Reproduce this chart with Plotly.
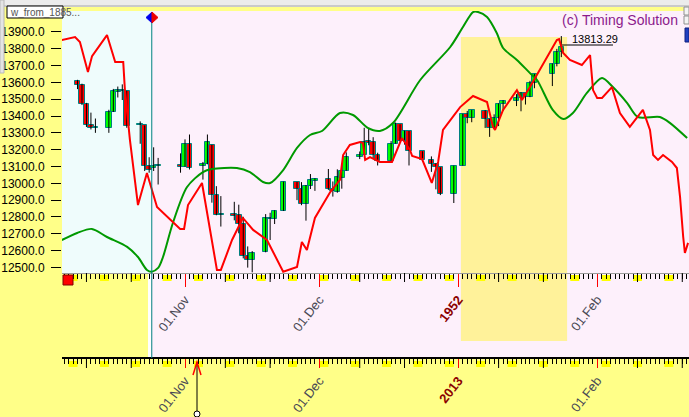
import plotly.graph_objects as go
import pandas as pd

# ---------------- data ----------------
candle_dates = [
    "2012-10-08", "2012-10-09", "2012-10-10", "2012-10-11", "2012-10-12",
    "2012-10-15", "2012-10-16", "2012-10-17", "2012-10-18", "2012-10-19",
    "2012-10-22", "2012-10-23", "2012-10-24", "2012-10-25", "2012-10-26",
    "2012-10-31", "2012-11-01", "2012-11-02", "2012-11-05", "2012-11-06",
    "2012-11-07", "2012-11-08", "2012-11-09", "2012-11-12", "2012-11-13",
    "2012-11-14", "2012-11-15", "2012-11-16", "2012-11-19", "2012-11-20",
    "2012-11-21", "2012-11-23", "2012-11-26", "2012-11-27", "2012-11-28",
    "2012-11-29", "2012-11-30", "2012-12-03", "2012-12-04", "2012-12-05",
    "2012-12-06", "2012-12-07", "2012-12-10", "2012-12-11", "2012-12-12",
    "2012-12-13", "2012-12-14", "2012-12-17", "2012-12-18", "2012-12-19",
    "2012-12-20", "2012-12-21", "2012-12-24", "2012-12-26", "2012-12-27",
    "2012-12-28", "2012-12-31", "2013-01-02", "2013-01-03", "2013-01-04",
    "2013-01-07", "2013-01-08", "2013-01-09", "2013-01-10", "2013-01-11",
    "2013-01-14", "2013-01-15", "2013-01-16", "2013-01-17", "2013-01-18",
    "2013-01-22", "2013-01-23", "2013-01-24",
]
candle_open = [
    13610, 13583, 13473, 13345, 13326, 13329, 13424, 13540, 13557, 13548,
    13344, 13344, 13103, 13090, 13103, 13107, 13099, 13233, 13100, 13113,
    13229, 12933, 12811, 12815, 12809, 12757, 12570, 12542, 12590, 12795,
    12788, 12836, 13008, 12966, 12877, 12986, 13015, 13027, 12965, 12950,
    13034, 13075, 13155, 13170, 13249, 13244, 13169, 13134, 13236, 13350,
    13252, 13311, 13190, 13139, 13114, 13095, 12939, 13105, 13413, 13391,
    13432, 13384, 13329, 13391, 13472, 13488, 13507, 13534, 13512, 13596,
    13649, 13712, 13779,
]
candle_high = [
    13615, 13592, 13478, 13420, 13385, 13437, 13561, 13575, 13588, 13550,
    13368, 13344, 13155, 13214, 13151, 13178, 13261, 13290, 13127, 13290,
    13229, 12983, 12924, 12890, 12873, 12801, 12625, 12597, 12817, 12825,
    12840, 13010, 13008, 13007, 12990, 13055, 13030, 13085, 13011, 13083,
    13080, 13184, 13189, 13330, 13324, 13274, 13182, 13251, 13361, 13350,
    13313, 13311, 13190, 13160, 13119, 13095, 13105, 13413, 13430, 13436,
    13435, 13384, 13410, 13475, 13494, 13530, 13542, 13535, 13609, 13650,
    13712, 13799, 13875,
]
candle_low = [
    13560, 13465, 13335, 13320, 13300, 13300, 13424, 13510, 13495, 13330,
    13235, 13073, 13063, 13073, 12993, 13063, 13099, 13082, 13022, 13113,
    12885, 12810, 12743, 12780, 12703, 12554, 12499, 12471, 12590, 12663,
    12758, 12836, 12900, 12870, 12778, 12966, 12955, 12961, 12921, 12944,
    12968, 13075, 13144, 13170, 13226, 13146, 13106, 13134, 13236, 13248,
    13230, 13106, 13133, 13068, 12964, 12930, 12883, 13105, 13357, 13363,
    13329, 13276, 13329, 13340, 13430, 13459, 13428, 13468, 13512, 13565,
    13578, 13695, 13750,
]
candle_close = [
    13583, 13473, 13344, 13326, 13334, 13424, 13551, 13557, 13549, 13343,
    13352, 13102, 13077, 13103, 13110, 13096, 13232, 13093, 13112, 13246,
    12932, 12811, 12818, 12806, 12756, 12570, 12542, 12588, 12796, 12788,
    12836, 13010, 12967, 12878, 12985, 13022, 13026, 12966, 12952, 13035,
    13075, 13155, 13170, 13248, 13240, 13170, 13135, 13236, 13351, 13252,
    13312, 13190, 13139, 13114, 13096, 12938, 13104, 13412, 13391, 13435,
    13384, 13329, 13390, 13471, 13488, 13507, 13535, 13511, 13596, 13650,
    13712, 13779, 13813,
]

red_dates = [
    "2012-10-04 12:00", "2012-10-07 11:00", "2012-10-08 13:00", "2012-10-10 08:00",
    "2012-10-11 06:00", "2012-10-14 14:00", "2012-10-16 10:00", "2012-10-18 05:00",
    "2012-10-18 14:00", "2012-10-19 17:00", "2012-10-21 12:00", "2012-10-23 12:00",
    "2012-10-25 18:00", "2012-10-30 22:00", "2012-10-31 19:00", "2012-11-01 16:00",
    "2012-11-04 19:00", "2012-11-08 03:00", "2012-11-09 00:00", "2012-11-11 12:00",
    "2012-11-13 22:00", "2012-11-16 05:00", "2012-11-19 07:00", "2012-11-22 22:00",
    "2012-11-26 00:00", "2012-11-27 02:00", "2012-11-28 05:00", "2012-11-30 00:00",
    "2012-12-03 10:00", "2012-12-05 14:00", "2012-12-06 07:00", "2012-12-07 19:00",
    "2012-12-10 02:00", "2012-12-10 17:00", "2012-12-11 05:00", "2012-12-12 07:00",
    "2012-12-14 12:00", "2012-12-17 05:00", "2012-12-19 10:00", "2012-12-21 05:00",
    "2012-12-21 17:00", "2012-12-23 22:00", "2012-12-26 02:00", "2012-12-27 12:00",
    "2012-12-28 14:00", "2012-12-30 05:00", "2013-01-01 10:00", "2013-01-04 07:00",
    "2013-01-07 10:00", "2013-01-08 18:00", "2013-01-09 05:00", "2013-01-11 00:00",
    "2013-01-14 02:00", "2013-01-15 05:00", "2013-01-17 00:00", "2013-01-23 00:00",
    "2013-01-23 12:00", "2013-01-24 10:00", "2013-01-25 22:00", "2013-01-28 14:00",
    "2013-01-30 10:00", "2013-01-31 02:00", "2013-02-01 00:00", "2013-02-02 02:00",
    "2013-02-04 07:00", "2013-02-06 02:00", "2013-02-08 07:00", "2013-02-11 05:00",
    "2013-02-12 19:00", "2013-02-13 12:00", "2013-02-14 14:00", "2013-02-15 17:00",
    "2013-02-17 17:00", "2013-02-18 19:00", "2013-02-19 12:00", "2013-02-20 05:00",
    "2013-02-20 14:00", "2013-02-21 07:00",
]
red_values = [
    13851, 13869, 13840, 13661, 13756, 13881, 13721, 13721, 13554, 13257,
    12871, 13061, 12859, 12729, 12729, 12871, 13002, 12485, 12485, 12663,
    12794, 12723, 12663, 12475, 12503, 12651, 12604, 12794, 12948, 13020,
    13168, 13228, 13245, 13240, 13139, 13156, 13127, 13127, 13269, 13198,
    13162, 13144, 13002, 13127, 13317, 13376, 13453, 13519, 13483, 13335,
    13317, 13436, 13554, 13495, 13572, 13851, 13857, 13774, 13733, 13703,
    13762, 13554, 13507, 13507, 13572, 13418, 13335, 13436, 13317, 13168,
    13139, 13168, 13127, 13091, 12919, 12681, 12586, 12646,
]

green_dates = [
    "2012-10-04 12:00", "2012-10-07 22:00", "2012-10-11 05:00", "2012-10-14 14:00",
    "2012-10-19 02:00", "2012-10-21 12:00", "2012-10-23 12:00", "2012-10-24 14:00",
    "2012-10-26 00:00", "2012-10-27 02:00", "2012-10-29 07:00", "2012-11-01 11:00",
    "2012-11-05 00:00", "2012-11-07 00:00", "2012-11-12 14:00", "2012-11-15 12:00",
    "2012-11-18 10:00", "2012-11-20 00:00", "2012-11-22 22:00", "2012-11-26 00:00",
    "2012-11-28 22:00", "2012-12-01 14:00", "2012-12-05 14:00", "2012-12-08 12:00",
    "2012-12-11 19:00", "2012-12-14 12:00", "2012-12-17 10:00", "2012-12-23 12:00",
    "2012-12-30 05:00", "2013-01-02 01:00", "2013-01-04 07:00", "2013-01-05 10:00",
    "2013-01-07 10:00", "2013-01-09 14:00", "2013-01-11 00:00", "2013-01-14 02:00",
    "2013-01-17 00:00", "2013-01-18 14:00", "2013-01-22 02:00", "2013-01-24 10:00",
    "2013-01-26 14:00", "2013-01-29 17:00", "2013-02-02 02:00", "2013-02-04 12:00",
    "2013-02-07 17:00", "2013-02-10 02:00", "2013-02-15 00:00", "2013-02-17 07:00",
    "2013-02-21 02:00",
]
green_values = [
    12663, 12705, 12729, 12681, 12622, 12562, 12485, 12475, 12497, 12562,
    12764, 12978, 13067, 13085, 13091, 13067, 13008, 13002, 13079, 13210,
    13287, 13311, 13418, 13406, 13329, 13311, 13358, 13614, 13810, 13929,
    14018, 14018, 13988, 13893, 13804, 13733, 13655, 13614, 13436, 13382,
    13418, 13537, 13626, 13572, 13477, 13394, 13394, 13358, 13269,
]

y_tick_values = [12500, 12600, 12700, 12800, 12900, 13000, 13100, 13200,
                 13300, 13400, 13500, 13600, 13700, 13800, 13900]
month_tick_dates = ["2012-11-01", "2012-12-01", "2013-01-01", "2013-02-01"]
upper_tick_labels = ["01.Nov", "01.Dec", "1952", "01.Feb"]
lower_tick_labels = ["01.Nov", "01.Dec", "2013", "01.Feb"]
last_price_label = "13813.29"

# ---------------- layout helpers ----------------
W, H = 689, 417
ML, MT = 62, 11
PW, PH = W - ML, H - MT


def px(x):
    return (x - ML) / PW


def py(y):
    return (H - y) / PH


X_START = "2012-10-04 13:00"
X_END = "2013-02-21 12:00"
Y_RANGE = [12467, 14024]
TEAL_DATE = "2012-10-24 14:00"
HL_START = "2013-01-01 14:00"
HL_END = "2013-01-25 07:00"
FONT = "Liberation Sans, Arial, sans-serif"
DAY_MS = 86400000

fig = go.Figure()

# wicks
wx, wy = [], []
for d, lo, hi in zip(candle_dates, candle_low, candle_high):
    wx += [d, d, None]
    wy += [lo, hi, None]
fig.add_trace(go.Scatter(x=wx, y=wy, mode="lines", line=dict(color="#000000", width=1),
                         hoverinfo="skip", showlegend=False))

# bodies
body_colors = ["#00ff00" if c >= o else "#ff0000" for o, c in zip(candle_open, candle_close)]
fig.add_trace(go.Bar(
    x=candle_dates,
    y=[c - o for o, c in zip(candle_open, candle_close)],
    base=candle_open,
    width=1.25 * DAY_MS,
    marker=dict(color=body_colors, line=dict(color="#008080", width=1)),
    showlegend=False, hoverinfo="skip",
))

fig.add_trace(go.Scatter(x=green_dates, y=green_values, mode="lines",
                         line=dict(color="#009900", width=2, shape="spline", smoothing=0.8),
                         showlegend=False, hoverinfo="skip"))
fig.add_trace(go.Scatter(x=red_dates, y=red_values, mode="lines",
                         line=dict(color="#ff0000", width=2),
                         showlegend=False, hoverinfo="skip"))
# helper trace that activates the lower time axis
fig.add_trace(go.Scatter(x=[X_START], y=[13000], xaxis="x2", mode="markers",
                         marker=dict(opacity=0), showlegend=False, hoverinfo="skip"))

shapes = []
# axis band (pink) between the two time scales
shapes.append(dict(type="rect", xref="paper", yref="paper", x0=px(148), x1=1.0,
                   y0=py(358), y1=py(273), fillcolor="#fdf0fb", line=dict(width=0), layer="below"))
shapes.append(dict(type="rect", xref="paper", yref="paper", x0=px(148), x1=px(151),
                   y0=py(358), y1=py(273), fillcolor="#ffffff", line=dict(width=0), layer="below"))
# light cyan part of the plot
shapes.append(dict(type="rect", xref="x", yref="paper", x0=X_START, x1=TEAL_DATE,
                   y0=py(273), y1=1.0, fillcolor="#effcfc", line=dict(width=0), layer="below"))
# highlight
shapes.append(dict(type="rect", xref="x", yref="paper", x0=HL_START, x1=HL_END,
                   y0=py(341), y1=py(37), fillcolor="#fff29a", line=dict(width=0), layer="below"))

# weekend marks and 10/20 ticks on both time scales
for d in pd.date_range("2012-10-01", "2013-02-28", freq="D"):
    if d.weekday() == 5:
        e = d + pd.Timedelta(days=2)
        for top, bot in ((275, 281), (361, 367)):
            shapes.append(dict(type="rect", xref="x", yref="paper",
                               x0=d.strftime("%Y-%m-%d"), x1=e.strftime("%Y-%m-%d"),
                               y0=py(bot), y1=py(top), fillcolor="#ffff00",
                               line=dict(width=0), layer="below"))
    if d.day in (10, 20):
        for top, bot in ((273, 282), (359, 368)):
            shapes.append(dict(type="line", xref="x", yref="paper",
                               x0=d.strftime("%Y-%m-%d"), x1=d.strftime("%Y-%m-%d"),
                               y0=py(bot), y1=py(top), line=dict(color="#000000", width=1),
                               layer="above"))

# teal vertical marker line and its diamond
shapes.append(dict(type="line", xref="x", yref="paper", x0=TEAL_DATE, x1=TEAL_DATE,
                   y0=py(358), y1=py(23), line=dict(color="#008080", width=1), layer="above"))
shapes.append(dict(type="path", xref="paper", yref="paper",
                   path=f"M {px(146)} {py(17.5)} L {px(152)} {py(12)} L {px(152)} {py(23)} Z",
                   fillcolor="#0000ee", line=dict(color="#0000ee", width=1), layer="above"))
shapes.append(dict(type="path", xref="paper", yref="paper",
                   path=f"M {px(152)} {py(12)} L {px(158)} {py(17.5)} L {px(152)} {py(23)} Z",
                   fillcolor="#ee0000", line=dict(color="#ee0000", width=1), layer="above"))

# cursor on lower scale
shapes.append(dict(type="line", xref="paper", yref="paper", x0=px(197), x1=px(197),
                   y0=py(414), y1=py(362), line=dict(color="#000000", width=1), layer="above"))
shapes.append(dict(type="path", xref="paper", yref="paper",
                   path=f"M {px(193)} {py(375)} L {px(197)} {py(362)} L {px(201)} {py(375)}",
                   line=dict(color="#ff0000", width=1.5), layer="above"))
shapes.append(dict(type="circle", xref="paper", yref="paper", x0=px(194), x1=px(200),
                   y0=py(417), y1=py(411), fillcolor="#ffffff",
                   line=dict(color="#000000", width=1), layer="above"))

# red square at the start of the upper scale
shapes.append(dict(type="rect", xref="paper", yref="paper", x0=px(63), x1=px(73),
                   y0=py(285), y1=py(275), fillcolor="#ff0000",
                   line=dict(color="#800000", width=1), layer="above"))

# last price marker underline
shapes.append(dict(type="line", xref="paper", yref="paper", x0=px(562), x1=px(613),
                   y0=py(45), y1=py(45), line=dict(color="#000000", width=1), layer="above"))

# window chrome
shapes.append(dict(type="rect", xref="paper", yref="paper", x0=px(0), x1=1.0,
                   y0=py(7), y1=py(0), fillcolor="#ececec", line=dict(width=0), layer="above"))
shapes.append(dict(type="line", xref="paper", yref="paper", x0=px(0), x1=1.0,
                   y0=py(6), y1=py(6), line=dict(color="#a8a8a8", width=1), layer="above"))
shapes.append(dict(type="rect", xref="paper", yref="paper", x0=px(0), x1=px(4),
                   y0=py(73), y1=py(0), fillcolor="#e4e4e4",
                   line=dict(color="#b8b8b8", width=1), layer="above"))
shapes.append(dict(type="rect", xref="paper", yref="paper", x0=px(7), x1=px(63),
                   y0=py(18), y1=py(6), fillcolor="#ffffff",
                   line=dict(color="#000000", width=1), layer="above"))
for top, bot in ((7, 15), (16, 24)):
    shapes.append(dict(type="rect", xref="paper", yref="paper", x0=px(684), x1=px(689),
                       y0=py(bot), y1=py(top), fillcolor="#f4f4f4",
                       line=dict(color="#909090", width=1), layer="above"))
shapes.append(dict(type="rect", xref="paper", yref="paper", x0=px(685), x1=px(689),
                   y0=py(42), y1=py(28), fillcolor="#2040c0",
                   line=dict(color="#102080", width=1), layer="above"))

annotations = [
    dict(text="(c) Timing Solution", xref="paper", yref="paper", x=px(620), y=py(20),
         showarrow=False, font=dict(family=FONT, size=14, color="#8b1a8b"),
         xanchor="center", yanchor="middle"),
    dict(text=last_price_label, xref="paper", yref="paper", x=px(595), y=py(39),
         showarrow=False, font=dict(family=FONT, size=11, color="#000000"),
         xanchor="center", yanchor="middle"),
    dict(text="w_from_1885...", xref="paper", yref="paper", x=px(8), y=py(12),
         showarrow=False, font=dict(family=FONT, size=10, color="#555555"),
         xanchor="left", yanchor="middle"),
]


def style_label(t):
    if t.isdigit():
        return f"<b><span style='color:#8b0000'>{t}</span></b>"
    return t


def time_axis(labels, ticklen):
    return dict(
        type="date", range=[X_START, X_END], tickmode="array", tickvals=month_tick_dates,
        ticktext=[style_label(t) for t in labels],
        ticks="outside", ticklen=ticklen, tickcolor="#ff0000", tickwidth=1, tickangle=-52,
        tickfont=dict(family=FONT, size=13, color="#4a4a55"), showgrid=False, zeroline=False,
        minor=dict(ticks="outside", dtick=DAY_MS, tick0="2012-10-01", ticklen=5,
                   tickcolor="#000000", tickwidth=1, showgrid=False),
        fixedrange=True, automargin=False,
    )


fig.update_layout(
    width=W, height=H, autosize=False,
    margin=dict(l=ML, r=0, t=MT, b=0, pad=0),
    paper_bgcolor="#ffff88", plot_bgcolor="#fdf0fb",
    showlegend=False, bargap=0,
    xaxis=dict(**time_axis(upper_tick_labels, 13),
               anchor="y", showline=True, linecolor="#9a9a9a", linewidth=1),
    xaxis2=dict(**time_axis(lower_tick_labels, 9),
                overlaying="x", anchor="free", position=py(358), side="bottom",
                showline=True, linecolor="#000000", linewidth=2),
    yaxis=dict(domain=[py(273), 1.0], range=Y_RANGE, tickmode="array",
               tickvals=y_tick_values, ticktext=[f"{v:.1f}" for v in y_tick_values],
               ticks="outside", ticklen=10, tickcolor="#000000", tickwidth=1,
               ticklabelstandoff=4,
               tickfont=dict(family=FONT, size=12, color="#000000"),
               showgrid=False, zeroline=False, showline=False, fixedrange=True,
               automargin=False),
    shapes=shapes, annotations=annotations,
)

fig.write_html(
    "out.html",
    config={"displayModeBar": False},
    post_script="document.body.style.margin='0px';document.body.style.overflow='hidden';",
)
